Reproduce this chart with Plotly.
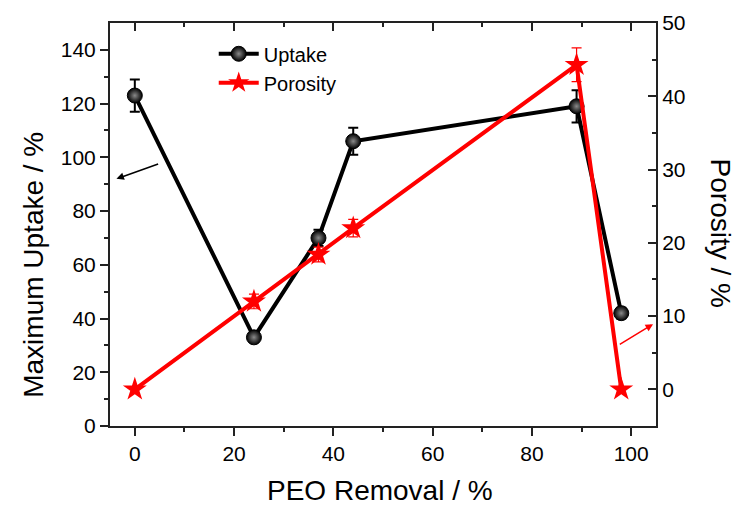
import plotly.graph_objects as go

peo_removal = [0, 24, 37, 44, 89, 98]
uptake = [123, 33, 70, 106, 119, 42]
uptake_err = [6, 1, 3, 5, 6, 2]
porosity = [0, 12, 18.4, 22, 44.3, 0]
porosity_err = [0, 1, 1, 1.2, 2.3, 0]

FONT = "Liberation Sans, Arial, sans-serif"
AX = "#222222"

fig = go.Figure()
fig.add_trace(go.Scatter(
    x=peo_removal, y=uptake, name="Uptake", mode="lines+markers",
    line=dict(color="black", width=4),
    marker=dict(symbol="circle", size=15, color="black",
                gradient=dict(type="radial", color="#8a8a8a"),
                line=dict(color="black", width=1)),
    error_y=dict(type="data", array=uptake_err, color="black", thickness=2, width=5),
    xaxis="x", yaxis="y",
))
fig.add_trace(go.Scatter(
    x=peo_removal, y=porosity, name="Porosity", mode="lines+markers",
    line=dict(color="#ff0000", width=4),
    marker=dict(symbol="star", size=18, color="#ff0000", line=dict(width=0)),
    error_y=dict(type="data", array=porosity_err, color="#ff0000", thickness=1.2, width=5),
    xaxis="x", yaxis="y2",
))

tickfont = dict(family=FONT, size=21, color="black")
fig.update_layout(
    width=744, height=506,
    margin=dict(l=110, r=88, t=23, b=80),
    paper_bgcolor="white", plot_bgcolor="white",
    font=dict(family=FONT, color="black"),
    showlegend=True,
    legend=dict(x=0.19, y=0.972, xanchor="left", yanchor="top",
                font=dict(family=FONT, size=20, color="black"),
                bgcolor="rgba(0,0,0,0)", itemwidth=40, tracegroupgap=0),
    xaxis=dict(range=[-5, 105], tickvals=[0, 20, 40, 60, 80, 100],
               ticks="outside", ticklen=8, tickwidth=1.5, tickcolor=AX,
               showline=True, linecolor=AX, linewidth=2, showgrid=False, zeroline=False,
               tickfont=tickfont,
               minor=dict(tickvals=[10, 30, 50, 70, 90], ticks="outside", ticklen=4, tickwidth=1.5, tickcolor=AX)),
    xaxis2=dict(range=[-5, 105], overlaying="x", side="top", tickvals=[0, 20, 40, 60, 80, 100],
                ticks="inside", ticklen=8, tickwidth=1.5, tickcolor=AX,
                showline=True, linecolor=AX, linewidth=2, showgrid=False, zeroline=False,
                showticklabels=False,
                minor=dict(tickvals=[10, 30, 50, 70, 90], ticks="inside", ticklen=4, tickwidth=1.5, tickcolor=AX)),
    yaxis=dict(range=[0, 150], tickvals=[0, 20, 40, 60, 80, 100, 120, 140],
               ticks="outside", ticklen=8, tickwidth=1.5, tickcolor=AX,
               showline=True, linecolor=AX, linewidth=2, showgrid=False, zeroline=False,
               tickfont=tickfont,
               minor=dict(tickvals=[10, 30, 50, 70, 90, 110, 130], ticks="outside", ticklen=4, tickwidth=1.5, tickcolor=AX)),
    yaxis2=dict(range=[-5, 50], overlaying="y", side="right",
                tickvals=[0, 10, 20, 30, 40, 50],
                ticks="inside", ticklen=8, tickwidth=1.5, tickcolor=AX,
                showline=True, linecolor=AX, linewidth=2, showgrid=False, zeroline=False,
                tickfont=tickfont,
                minor=dict(tickvals=[5, 15, 25, 35, 45], ticks="inside", ticklen=4, tickwidth=1.5, tickcolor=AX)),
)

fig.add_trace(go.Scatter(x=[None], y=[None], xaxis="x2", yaxis="y", showlegend=False, hoverinfo="skip"))

title_font = dict(family=FONT, size=28, color="black")
fig.add_annotation(text="PEO Removal / %", xref="paper", yref="paper", x=0.495, y=0,
                   xanchor="center", yanchor="middle", yshift=-64, showarrow=False, font=title_font)
fig.add_annotation(text="Maximum Uptake / %", xref="paper", yref="paper", x=0, y=0.4,
                   xanchor="center", yanchor="middle", xshift=-76, textangle=-90,
                   showarrow=False, font=title_font)
fig.add_annotation(text="Porosity / %", xref="paper", yref="paper", x=1.0, y=0.48,
                   xanchor="center", yanchor="middle", xshift=64, textangle=90,
                   showarrow=False, font=title_font)

fig.add_annotation(xref="x", yref="y", x=-3.7, y=92, ax=5, ay=97.7, axref="x", ayref="y",
                   text="", showarrow=True, arrowhead=2, arrowsize=1, arrowwidth=1.5, arrowcolor="black")
fig.add_annotation(xref="x", yref="y2", x=104.4, y=8.9, ax=97.4, ay=6, axref="x", ayref="y2",
                   text="", showarrow=True, arrowhead=2, arrowsize=1, arrowwidth=1.5, arrowcolor="#ff0000")

fig.write_html("out.html")
